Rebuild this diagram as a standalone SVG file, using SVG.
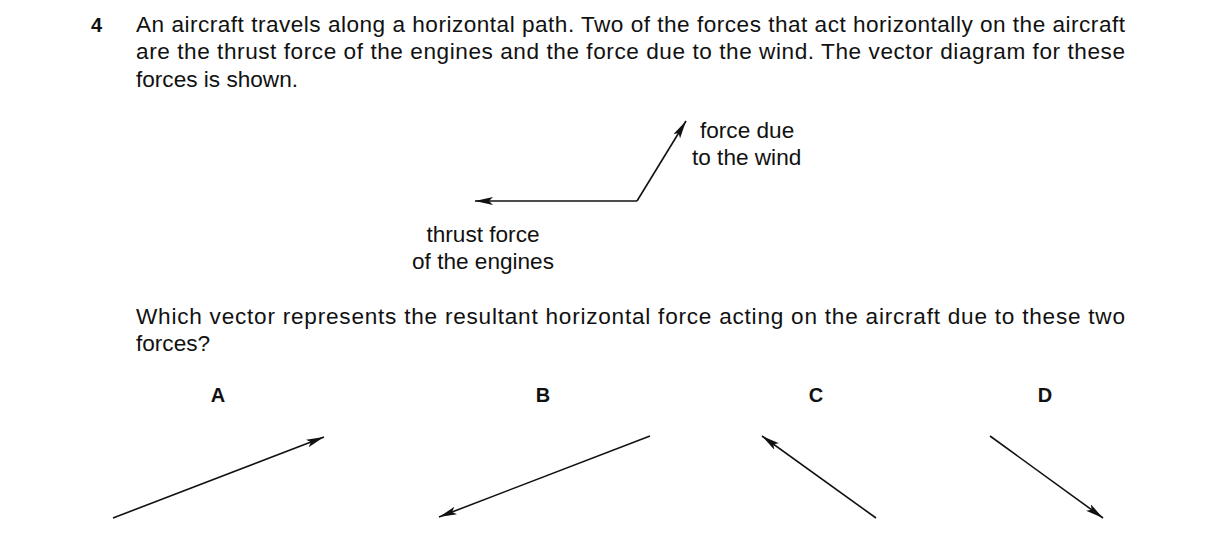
<svg xmlns="http://www.w3.org/2000/svg" width="1216" height="543" viewBox="0 0 1216 543">
<style>
text{font-family:"Liberation Sans",Arial,sans-serif;font-size:22.6px;fill:#111}
.b{font-weight:bold;font-size:20px}
.c{text-anchor:middle}
line{stroke:#111;stroke-width:1.6}
</style>
<defs>
<marker id="ah" markerUnits="userSpaceOnUse" markerWidth="20" markerHeight="10" refX="18" refY="4" orient="auto">
<path d="M0,0 L18,4 L0,8 L4,4 Z" fill="#111"/>
</marker>
</defs>
<rect width="1216" height="543" fill="#fff"/>
<g id="question">
<text x="91" y="32" class="b">4</text>
<text x="136" y="32" textLength="989" lengthAdjust="spacing">An aircraft travels along a horizontal path. Two of the forces that act horizontally on the aircraft</text>
<text x="136" y="59" textLength="989" lengthAdjust="spacing">are the thrust force of the engines and the force due to the wind. The vector diagram for these</text>
<text x="136" y="87">forces is shown.</text>
<text x="136" y="324" textLength="989" lengthAdjust="spacing">Which vector represents the resultant horizontal force acting on the aircraft due to these two</text>
<text x="136" y="351">forces?</text>
</g>
<g id="labels">
<text x="700" y="138">force due</text>
<text x="692" y="165">to the wind</text>
<text x="483" y="242" class="c">thrust force</text>
<text x="483" y="269" class="c">of the engines</text>
<text x="218" y="402" class="b c">A</text>
<text x="543" y="402" class="b c">B</text>
<text x="816" y="402" class="b c">C</text>
<text x="1045" y="402" class="b c">D</text>
</g>
<g id="connectors">
<line x1="637" y1="201" x2="475" y2="201" marker-end="url(#ah)"/>
<line x1="637" y1="201" x2="686" y2="121" marker-end="url(#ah)"/>
<line x1="113" y1="518" x2="324" y2="437" marker-end="url(#ah)"/>
<line x1="650" y1="436" x2="439" y2="517" marker-end="url(#ah)"/>
<line x1="876" y1="518" x2="762" y2="436" marker-end="url(#ah)"/>
<line x1="990" y1="436" x2="1103" y2="518" marker-end="url(#ah)"/>
</g>
</svg>
